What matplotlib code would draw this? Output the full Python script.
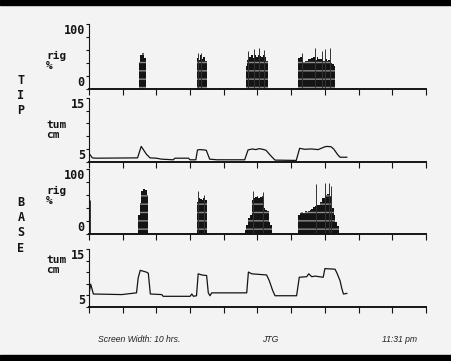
import matplotlib
matplotlib.use("Agg")
import matplotlib.pyplot as plt
from matplotlib.patches import Rectangle

# ---------------- data (hours since start) ----------------
hour_ticks = [0, 1, 2, 3, 4, 5, 6, 7, 8, 9, 10]

# TIP rigidity (%) samples
tip_rig_t = [1.50, 1.55, 1.60, 1.65,
             3.22, 3.27, 3.32, 3.37, 3.42, 3.47,
             4.68, 4.73, 4.78, 4.83, 4.88, 4.93, 4.98, 5.03, 5.08, 5.13, 5.18, 5.23, 5.28,
             6.23, 6.28, 6.33, 6.38, 6.43, 6.48, 6.53, 6.58, 6.63, 6.68, 6.73, 6.78,
             6.83, 6.88, 6.93, 6.98, 7.03, 7.08, 7.13, 7.18, 7.23, 7.28]
tip_rig_v = [42, 52, 56, 48,
             48, 45, 53, 47, 50, 44,
             35, 45, 50, 52, 48, 53, 50, 52, 51, 50, 53, 49, 44,
             48, 50, 45, 42, 44, 43, 47, 46, 48, 50, 45, 49,
             47, 46, 50, 44, 46, 43, 45, 40, 38, 36]
tip_spike_t = [3.24, 3.33, 4.72, 4.90, 5.04, 5.20, 6.33, 6.71, 6.90, 7.00, 7.15]
tip_spike_v = [55, 56, 58, 62, 64, 60, 55, 64, 58, 62, 64]

# TIP tumescence (cm)
tip_tum_t = [0.03, 0.10, 0.20, 1.44, 1.55, 1.70, 1.81, 2.00, 2.15, 2.50, 2.55, 2.95,
             3.00, 3.17, 3.22, 3.30, 3.40, 3.48, 3.58, 3.80, 4.62, 4.72, 4.85, 4.95,
             5.05, 5.15, 5.25, 5.40, 5.52, 6.15, 6.25, 6.40, 6.60, 6.80, 6.98, 7.05,
             7.18, 7.26, 7.38, 7.45, 7.65]
tip_tum_v = [6.1, 5.6, 5.55, 5.6, 7.4, 6.2, 5.6, 5.55, 5.4, 5.3, 5.55, 5.55,
             5.3, 5.3, 6.85, 6.9, 6.85, 6.8, 5.4, 5.3, 5.3, 6.85, 7.0, 6.9,
             7.05, 6.95, 6.8, 5.9, 5.25, 5.2, 7.1, 6.95, 7.0, 6.9, 7.3, 7.4,
             7.35, 7.0, 6.1, 5.7, 5.7]

# BASE rigidity (%) samples
base_rig_t = [1.48, 1.53, 1.58, 1.63, 1.68, 1.73,
              3.22, 3.27, 3.32, 3.37, 3.42, 3.47,
              4.65, 4.70, 4.75, 4.80, 4.85, 4.90, 4.95, 5.00, 5.05, 5.10, 5.15, 5.20,
              5.25, 5.30, 5.35, 5.40,
              6.23, 6.28, 6.33, 6.38, 6.43, 6.48, 6.53, 6.58, 6.63, 6.68, 6.73, 6.78,
              6.83, 6.88, 6.93, 6.98, 7.03, 7.08, 7.13, 7.18, 7.23, 7.28, 7.33, 7.38]
base_rig_v = [30, 48, 66, 70, 68, 60,
              50, 56, 54, 52, 56, 52,
              6, 14, 25, 30, 52, 56, 57, 58, 56, 57, 58, 40,
              37, 35, 18, 14,
              30, 33, 34, 33, 35, 34, 36, 37, 38, 42, 43, 44,
              45, 50, 55, 56, 60, 61, 59, 58, 40, 30, 18, 12]
base_spike_t = [0.03, 3.24, 3.42, 4.88, 5.17, 6.73, 7.00, 7.12, 7.18]
base_spike_v = [52, 66, 60, 66, 64, 77, 79, 78, 74]

# BASE tumescence (cm)
base_tum_t = [0.0, 0.05, 0.13, 0.97, 1.41, 1.46, 1.52, 1.70, 1.76, 1.82, 2.16, 2.20,
              3.00, 3.05, 3.10, 3.19, 3.24, 3.35, 3.49, 3.54, 3.59, 3.64, 4.60, 4.68,
              4.73, 4.83, 5.27, 5.35, 5.45, 5.52, 6.16, 6.24, 6.46, 6.52, 6.61, 6.71,
              6.95, 7.00, 7.30, 7.36, 7.45, 7.50, 7.55, 7.65]
base_tum_v = [7.2, 8.9, 7.2, 7.1, 7.4, 10.0, 11.3, 11.0, 10.8, 7.2, 7.1, 6.8,
              6.8, 7.2, 6.8, 6.9, 10.7, 10.5, 10.4, 7.4, 6.9, 7.4, 7.4, 7.4,
              11.0, 10.7, 10.5, 9.5, 7.8, 6.9, 6.9, 10.1, 10.2, 10.7, 10.2, 10.3,
              10.1, 11.6, 11.5, 10.8, 9.5, 8.2, 7.2, 7.3]

rig_ticks = [0, 20, 40, 60, 80, 100]
rig_labels = ["0", "", "", "", "", "100"]
tum_ticks = [5, 7, 9, 11, 13, 15]
tum_labels = ["5", "", "", "", "", "15"]

# ---------------- figure ----------------
W, H = 452, 361
BG = "#f3f3f3"
INK = "#141414"
fig = plt.figure(figsize=(W / 100, H / 100), dpi=100, facecolor=BG)

def fy(py):
    return 1 - py / H

# black scan bands
fig.patches.append(Rectangle((0, fy(4.5)), 1, 4.5 / H, transform=fig.transFigure,
                             color="black", zorder=0))
fig.patches.append(Rectangle((0, 0), 1, 6 / H, transform=fig.transFigure,
                             color="black", zorder=0))

x0, x1 = 89 / W, 426 / W
panels = {
    "tip_rig": (24, 89.3),
    "tip_tum": (98, 161.7),
    "base_rig": (169, 234),
    "base_tum": (249, 306.7),
}
mono = {"family": "DejaVu Sans Mono", "weight": "bold"}

def make_ax(key, ylim, ticks, labels):
    top, bot = panels[key]
    ax = fig.add_axes([x0, fy(bot), x1 - x0, (bot - top) / H])
    ax.set_facecolor("none")
    ax.set_xlim(0, 10)
    ax.set_ylim(*ylim)
    for s in ("top", "right"):
        ax.spines[s].set_visible(False)
    ax.spines["left"].set_linewidth(0.8)
    ax.spines["bottom"].set_linewidth(1.4)
    ax.spines["left"].set_color(INK)
    ax.spines["bottom"].set_color(INK)
    ax.set_xticks(hour_ticks)
    ax.set_xticklabels([])
    ax.tick_params(axis="x", direction="out", length=4.5, width=0.8, color=INK)
    ax.set_yticks(ticks)
    ax.set_yticklabels(labels, fontsize=8.5, color=INK, **mono)
    ax.tick_params(axis="y", direction="out", length=2, width=0.8, color=INK, pad=1)
    tl = ax.get_yticklabels()
    tl[0].set_va("bottom")
    tl[-1].set_va("top")
    return ax

ax1 = make_ax("tip_rig", (0, 100), rig_ticks, rig_labels)
ax1.bar(tip_rig_t, tip_rig_v, width=0.056, color=INK, edgecolor="#8a8a8a",
        linewidth=0, hatch="--", zorder=2)
ax1.vlines(tip_spike_t, 0, tip_spike_v, color="#333333", linewidth=0.7, zorder=2)

ax2 = make_ax("tip_tum", (5, 15), tum_ticks, tum_labels)
ax2.plot(tip_tum_t, tip_tum_v, color=INK, linewidth=0.9, zorder=2)

ax3 = make_ax("base_rig", (0, 100), rig_ticks, rig_labels)
ax3.bar(base_rig_t, base_rig_v, width=0.056, color=INK, edgecolor="#8a8a8a",
        linewidth=0, hatch="--", zorder=2)
ax3.vlines(base_spike_t, 0, base_spike_v, color="#333333", linewidth=0.7, zorder=2)

ax4 = make_ax("base_tum", (5, 15), tum_ticks, tum_labels)
ax4.plot(base_tum_t, base_tum_v, color=INK, linewidth=0.9, zorder=2)

# channel labels
def lab(px, py, s):
    fig.text(px / W, fy(py), s, fontsize=8, color=INK, va="top", ha="left",
             linespacing=1.0, **mono)

lab(46, 51, "rig\n%")
lab(46, 120, "tum\ncm")
lab(46, 186, "rig\n%")
lab(46, 255, "tum\ncm")

def stacked(px, py, s):
    fig.text(px / W, fy(py), "\n".join(s), fontsize=8.5, color=INK, va="top",
             ha="center", linespacing=1.22, **mono)

stacked(21, 74, "TIP")
stacked(21, 196, "BASE")

foot = {"family": "Liberation Sans", "style": "italic", "fontsize": 6.2,
        "color": "#222222", "va": "center", "ha": "center"}
fig.text(139 / W, fy(339), "Screen Width: 10 hrs.", **foot)
fig.text(270 / W, fy(339), "JTG", **foot)
fig.text(400 / W, fy(339), "11:31 pm", **foot)

fig.savefig("out.png", dpi=100, facecolor=BG)
